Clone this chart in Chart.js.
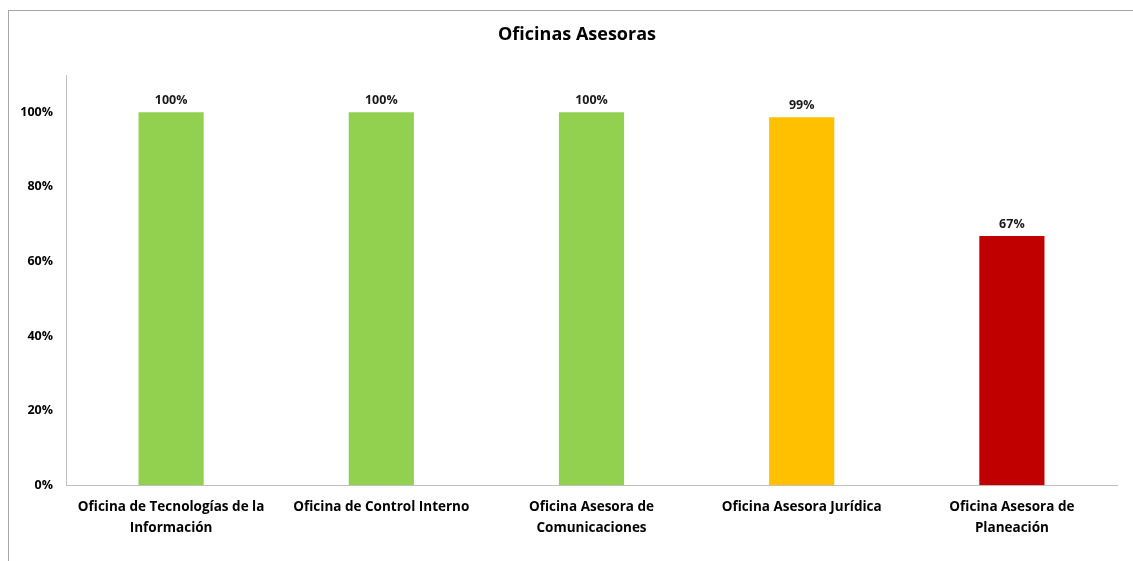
<!DOCTYPE html>
<html>
<head>
<meta charset="utf-8">
<script src="https://cdn.jsdelivr.net/npm/chart.js@4"></script>
<style>
  html, body { margin: 0; padding: 0; background: #fff; overflow: hidden; }
  #marco { position: absolute; left: 8px; top: 10px; width: 1200px; height: 600px; border: 1px solid #a6a6a6; }
  #caja { position: absolute; left: 0; top: 0; width: 1133px; height: 561px; }
</style>
</head>
<body>
<div id="marco"></div>
<div id="caja"><canvas id="myChart"></canvas></div>
<script>
const titulo = "Oficinas Asesoras";
const oficinas = [
  ["Oficina de Tecnologías de la", "Información"],
  "Oficina de Control Interno",
  ["Oficina Asesora de", "Comunicaciones"],
  "Oficina Asesora Jurídica",
  ["Oficina Asesora de", "Planeación"]
];
const avance = [100, 100, 100, 98.7, 66.8];
const colores = ["#92d050", "#92d050", "#92d050", "#ffc000", "#c00000"];
const ticksY = [0, 20, 40, 60, 80, 100];

// etiquetas encima de cada barra + titulo centrado en el marco
const etiquetas = {
  id: 'etiquetas',
  afterDatasetsDraw(chart) {
    const ctx = chart.ctx;
    const meta = chart.getDatasetMeta(0);
    ctx.save();
    ctx.font = "bold 12.5px 'Open Sans'";
    ctx.fillStyle = "#1a1a1a";
    ctx.textAlign = "center";
    ctx.textBaseline = "middle";
    meta.data.forEach((bar, i) => {
      ctx.fillText(Math.round(avance[i]) + "%", bar.x, bar.y - 12);
    });
    ctx.font = "bold 18px 'Open Sans'";
    ctx.fillStyle = "#000";
    ctx.fillText(titulo, 577, 35);
    ctx.restore();
  }
};

function grafico() {
  const ctx = document.getElementById('myChart');
  new Chart(ctx, {
    type: 'bar',
    data: {
      labels: oficinas,
      datasets: [{
        data: avance,
        backgroundColor: colores,
        barPercentage: 0.31,
        categoryPercentage: 1
      }]
    },
    options: {
      responsive: true,
      maintainAspectRatio: false,
      animation: false,
      layout: { padding: { top: 75, right: 16, bottom: 18, left: 0 } },
      plugins: {
        legend: { display: false },
        tooltip: { enabled: false },
        title: { display: false }
      },
      scales: {
        x: {
          grid: { display: false },
          border: { color: '#bfbfbf', width: 1 },
          ticks: {
            color: '#000',
            font: { family: 'Open Sans', size: 13.5, weight: 'bold', lineHeight: 1.55 },
            padding: 4,
            maxRotation: 0,
            autoSkip: false
          }
        },
        y: {
          min: 0,
          max: 110,
          grid: { display: false, drawTicks: false },
          border: { color: '#bfbfbf', width: 1 },
          afterBuildTicks(axis) {
            axis.ticks = ticksY.map(v => ({ value: v }));
          },
          afterFit(axis) { axis.width = 66; },
          ticks: {
            color: '#000',
            font: { family: 'Open Sans', size: 12.5, weight: 'bold' },
            padding: 13,
            callback: v => v + '%'
          }
        }
      }
    },
    plugins: [etiquetas]
  });
}

grafico();
</script>
</body>
</html>
